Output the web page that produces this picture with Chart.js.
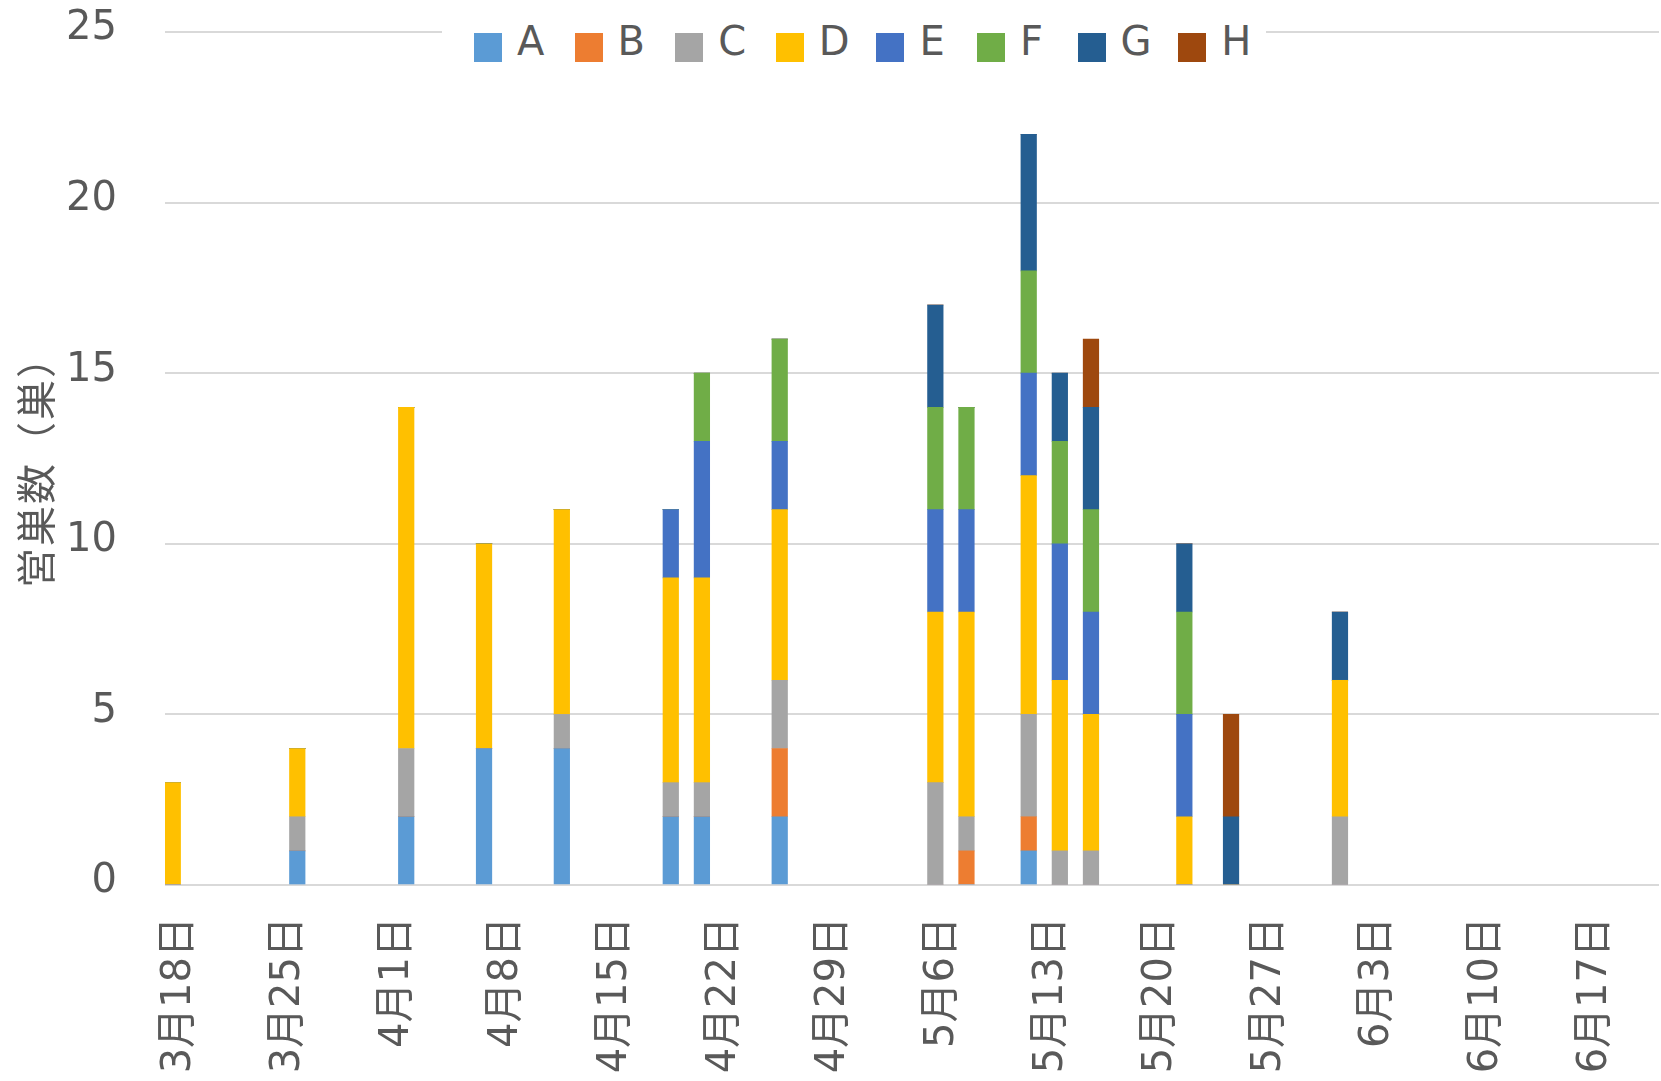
<!DOCTYPE html>
<html>
<head>
<meta charset="utf-8">
<script src="https://cdn.jsdelivr.net/npm/chart.js@4"></script>
<style>
	body { margin: 0; background: #fff; }
	#wrap { position: relative; width: 1661px; height: 1081px; }
	#legend {
		position: absolute; left: 442px; top: 8px; width: 824px; height: 62px;
		background: #fff; display: flex; padding-left: 32px; box-sizing: border-box;
	}
	.item { position: relative; flex: none; width: 100.6px; height: 62px; }
	.box { position: absolute; left: 0; top: 25px; width: 28px; height: 29px; }
	.lab {
		position: absolute; left: 43px; top: 13px;
		font: 40px/40px 'DejaVu Sans', sans-serif; color: #595959;
	}
	#ytitle {
		position: absolute; left: 34px; top: 462px;
		transform: translate(-50%, -50%) rotate(-90deg);
		white-space: nowrap; letter-spacing: 2px;
		font: 40px/48px 'Noto Sans CJK JP', sans-serif; color: #595959;
	}
</style>
</head>
<body>
<div id="wrap">
	<canvas id="myChart" width="1661" height="1081"></canvas>
	<div id="legend"></div>
	<div id="ytitle">営巣数（巣）</div>
</div>
<script>
const barDates = ['3月18日', '3月26日', '4月2日', '4月7日', '4月12日', '4月19日', '4月21日', '4月26日',
	'5月6日', '5月8日', '5月12日', '5月14日', '5月16日', '5月22日', '5月25日', '6月1日']
const seriesA = [0, 1, 2, 4, 4, 2, 2, 2, 0, 0, 1, 0, 0, 0, 0, 0]
const seriesB = [0, 0, 0, 0, 0, 0, 0, 2, 0, 1, 1, 0, 0, 0, 0, 0]
const seriesC = [0, 1, 2, 0, 1, 1, 1, 2, 3, 1, 3, 1, 1, 0, 0, 2]
const seriesD = [3, 2, 10, 6, 6, 6, 6, 5, 5, 6, 7, 5, 4, 2, 0, 4]
const seriesE = [0, 0, 0, 0, 0, 2, 4, 2, 3, 3, 3, 4, 3, 3, 0, 0]
const seriesF = [0, 0, 0, 0, 0, 0, 2, 3, 3, 3, 3, 3, 3, 3, 0, 0]
const seriesG = [0, 0, 0, 0, 0, 0, 0, 0, 3, 0, 4, 2, 3, 2, 2, 2]
const seriesH = [0, 0, 0, 0, 0, 0, 0, 0, 0, 0, 0, 0, 2, 0, 3, 0]
const seriesNames = ['A', 'B', 'C', 'D', 'E', 'F', 'G', 'H']
const colors = ['#5B9BD5', '#ED7D31', '#A5A5A5', '#FFC000', '#4472C4', '#70AD47', '#255E91', '#9E480E']
const yTicks = [0, 5, 10, 15, 20, 25]

// one category per day, 3月18日 .. 6月21日
const dayLabels = []
for (let d = new Date(2018, 2, 18); d <= new Date(2018, 5, 21); d.setDate(d.getDate() + 1)) {
	dayLabels.push((d.getMonth() + 1) + '月' + d.getDate() + '日')
}

const allSeries = [seriesA, seriesB, seriesC, seriesD, seriesE, seriesF, seriesG, seriesH]
const toDays = (vals) => dayLabels.map(day => {
	const i = barDates.indexOf(day)
	return i < 0 ? null : vals[i]
})

const gray = '#595959'
const latin = "'DejaVu Sans', 'Noto Sans CJK JP', sans-serif"

// keep the plot area where the original has it; labels may overhang
const noPadding = (scale) => {
	scale.paddingTop = 0
	scale.paddingBottom = 0
	scale.paddingLeft = 0
	scale.paddingRight = 0
}

const ctx = document.getElementById('myChart')

const chart = new Chart(ctx, {
	type: 'bar',
	data: {
		labels: dayLabels,
		datasets: allSeries.map((vals, k) => ({
			label: seriesNames[k],
			data: toDays(vals),
			backgroundColor: colors[k],
			borderWidth: 0,
			barPercentage: 1,
			categoryPercentage: 1,
		})),
	},
	options: {
		responsive: false,
		animation: false,
		layout: {
			padding: { top: 32, right: 2, bottom: 0, left: 0 },
		},
		plugins: {
			legend: { display: false },
			tooltip: { enabled: false },
		},
		scales: {
			x: {
				stacked: true,
				grid: { display: false, drawTicks: false },
				border: { display: false },
				afterFit: (scale) => { scale.height = 196; noPadding(scale) },
				ticks: {
					autoSkip: false,
					maxRotation: 90,
					minRotation: 90,
					padding: 32,
					labelOffset: 7,
					color: gray,
					font: { family: latin, size: 40 },
					callback: (value, index) => index % 7 === 0 ? dayLabels[index] : '',
				},
			},
			y: {
				stacked: true,
				min: 0,
				max: 25,
				afterFit: (scale) => { scale.width = 165; noPadding(scale) },
				afterBuildTicks: (scale) => { scale.ticks = yTicks.map(v => ({ value: v })) },
				grid: { color: '#D9D9D9', lineWidth: 2, drawTicks: false },
				border: { display: false },
				ticks: {
					padding: 48,
					labelOffset: -3,
					color: gray,
					font: { family: latin, size: 40 },
				},
			},
		},
	},
})

// legend sits on the top gridline with a white backing, like the original
const legend = document.getElementById('legend')
chart.data.datasets.forEach(ds => {
	const item = document.createElement('div')
	item.className = 'item'
	const box = document.createElement('div')
	box.className = 'box'
	box.style.background = ds.backgroundColor
	const lab = document.createElement('span')
	lab.className = 'lab'
	lab.textContent = ds.label
	item.appendChild(box)
	item.appendChild(lab)
	legend.appendChild(item)
})
</script>
</body>
</html>
